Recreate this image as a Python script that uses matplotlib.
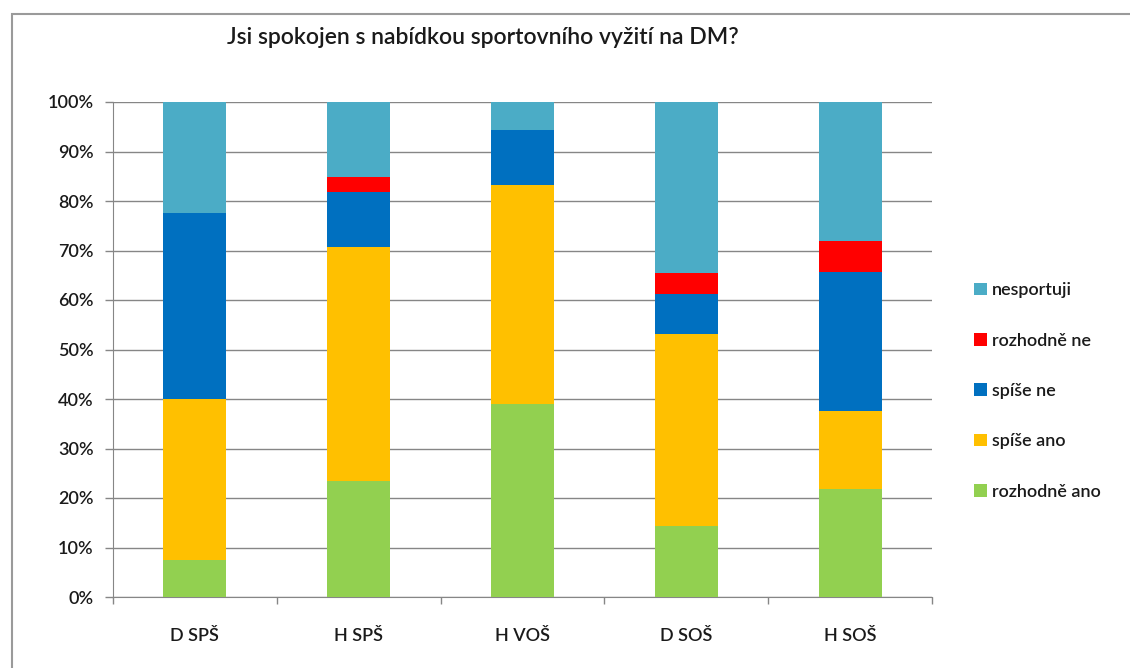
import matplotlib.pyplot as plt
import matplotlib.patches as patches
import numpy as np

plt.rcParams['font.family'] = ['Lato', 'DejaVu Sans']

categories = ['D SPŠ', 'H SPŠ', 'H VOŠ', 'D SOŠ', 'H SOŠ']
rozhodne_ano = [7.5, 23.4, 38.9, 14.3, 21.9]
spise_ano = [32.5, 47.4, 44.4, 38.8, 15.6]
spise_ne = [37.5, 11.0, 11.1, 8.2, 28.1]
rozhodne_ne = [0.0, 3.0, 0.0, 4.1, 6.3]
nesportuji = [22.5, 15.2, 5.6, 34.6, 28.1]

series = [
    ('rozhodně ano', rozhodne_ano, '#92D050'),
    ('spíše ano', spise_ano, '#FFC000'),
    ('spíše ne', spise_ne, '#0070C0'),
    ('rozhodně ne', rozhodne_ne, '#FF0000'),
    ('nesportuji', nesportuji, '#4BACC6'),
]

fig = plt.figure(figsize=(11.3, 6.68), dpi=100)
ax = fig.add_axes([113 / 1130, 71 / 668, 819 / 1130, 495 / 668])

x = np.arange(len(categories))
bottom = np.zeros(len(categories))
handles = []
for name, vals, color in series:
    vals = np.array(vals)
    h = ax.bar(x, vals, 0.385, bottom=bottom, color=color, label=name, zorder=3)
    handles.append(h)
    bottom += vals

txt = '#1a1a1a'
ax.set_xlim(-0.5, len(categories) - 0.5)
ax.set_ylim(0, 100)
ax.set_yticks(range(0, 101, 10))
ax.set_yticklabels([f'{v}%' for v in range(0, 101, 10)], fontsize=13,
                   color=txt, fontweight='semibold')
ax.set_xticks(x)
ax.set_xticklabels(categories, fontsize=13, color=txt, fontweight='semibold')
ax.tick_params(axis='x', length=0, pad=22)
ax.tick_params(axis='y', length=6, color='#868686', width=1, pad=8)
ax.set_xticks(np.arange(-0.5, len(categories), 1), minor=True)
ax.tick_params(axis='x', which='minor', length=5, color='#868686', width=1)

ax.yaxis.grid(True, color='#868686', linewidth=1, zorder=0)
for s in ['top', 'right']:
    ax.spines[s].set_visible(False)
for s in ['left', 'bottom']:
    ax.spines[s].set_color('#868686')

fig.text(483 / 1130, 1 - 38 / 668, 'Jsi spokojen s nabídkou sportovního vyžití na DM?',
         ha='center', va='center', fontsize=16.5, color=txt, fontweight='semibold')

leg = fig.legend(handles[::-1], [s[0] for s in series][::-1],
                 loc='center left', bbox_to_anchor=(958 / 1130, 1 - 391 / 668),
                 frameon=False, labelspacing=1.9,
                 handlelength=0.7, handleheight=0.7, handletextpad=0.3,
                 prop={'weight': 'semibold', 'size': 13})
for t in leg.get_texts():
    t.set_color(txt)

fig.patches.append(patches.Rectangle((12 / 1130, -0.05), 1.2, 1.05 - 14 / 668,
                                     transform=fig.transFigure, fill=False,
                                     edgecolor='#9a9a9a', linewidth=1.5))

fig.savefig('out.png', dpi=100)
